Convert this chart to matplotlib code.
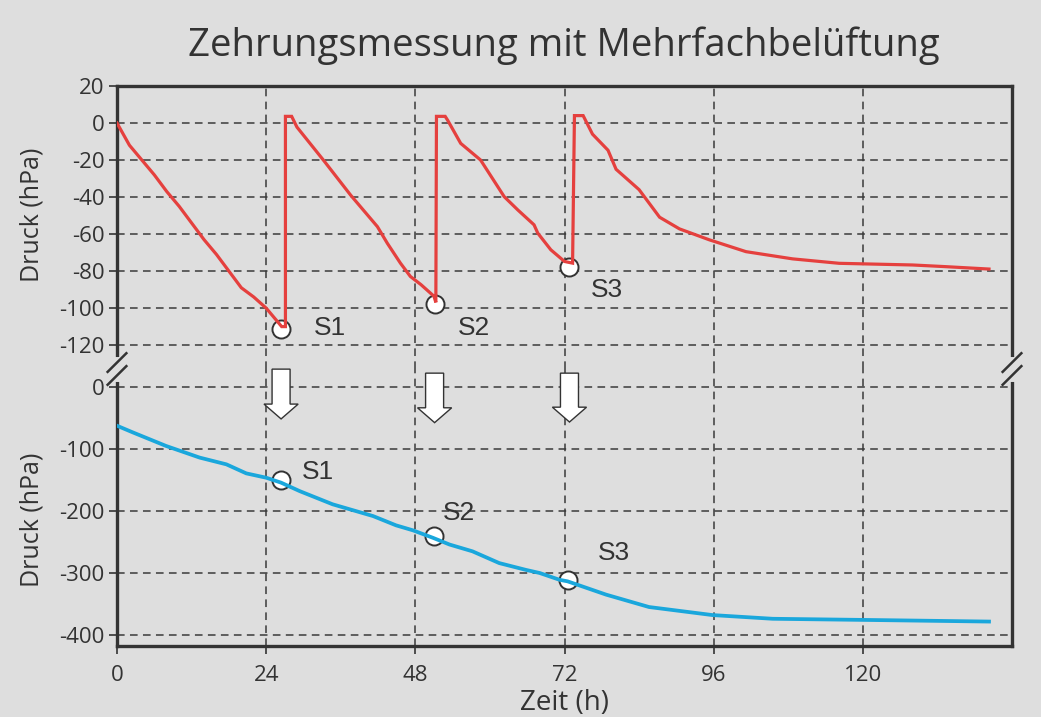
import matplotlib
matplotlib.use("Agg")
import matplotlib.pyplot as plt
from matplotlib.patches import Polygon
from matplotlib.lines import Line2D

# ---------------- data ----------------
title = "Zehrungsmessung mit Mehrfachbelüftung"
xlabel = "Zeit (h)"
ylabel = "Druck (hPa)"
xticks = [0, 24, 48, 72, 96, 120]
yticks_top = [20, 0, -20, -40, -60, -80, -100, -120]
yticks_bot = [0, -100, -200, -300, -400]

red_t = [0, 2, 4, 6, 8, 10, 12, 14, 16, 18, 20, 22, 24, 25.5, 26.5, 27.1,
         27.1, 28.1, 28.95, 33.2, 37.6, 41.9, 43.5, 45.6, 47.2, 48.9, 51.0, 51.3,
         51.4, 52.8, 53.2, 55.3, 58.5, 62.3, 64.5, 67.1, 67.7, 69.8, 72.0, 73.3,
         73.6, 75.0, 76.5, 79.0, 80.3, 84.0, 87.3, 90.5, 95.3, 101.2, 108.7, 116.2, 128.0, 133.3, 140.3]
red_p = [0, -12, -20, -28, -37, -45, -54, -63, -71, -80, -89, -94, -100, -106, -110, -110,
         3.6, 3.6, -2.2, -20, -39, -56, -65, -75.7, -82.9, -87.3, -93.6, -96.9,
         3.6, 3.6, 1.5, -11, -20, -39.8, -47, -55, -59.5, -68.5, -74.8, -75.7,
         4.0, 4.0, -6, -14.7, -25, -36, -50.9, -57.2, -63.1, -69.5, -73.4, -75.8, -76.7, -77.6, -78.9]

blue_t = [0, 2.6, 7.9, 13.3, 17.6, 20.8, 24.0, 26.4, 29.4, 34.7, 41.2, 44.9, 47.6, 50.8, 53.5,
          57.2, 61.5, 65.8, 68.0, 71.2, 72.5, 78.7, 85.6, 95.8, 105.5, 121.5, 140.3]
blue_p = [-62, -73, -94.7, -113.5, -124.4, -139, -146, -154, -167.7, -189, -208, -223, -231, -243, -254,
          -265, -284, -295, -300, -311, -313.5, -335, -355, -368, -374, -376, -378.5]

s_names = ["S1", "S2", "S3"]
s_t_top = [26.4, 51.1, 72.7]
s_p_top = [-111.5, -97.7, -77.8]
s_lab_top_t = [34.3, 57.4, 78.8]
s_lab_top_p = [-110.6, -110.6, -90]

s_t_bot = [26.4, 51.0, 72.5]
s_p_bot = [-150, -241, -311]
s_lab_bot_t = [32.3, 55.0, 80.0]
s_lab_bot_p = [-136.5, -203, -267]

arrow_t = [26.4, 51.1, 72.8]
arrow_top = [29.5, 23, 23]
arrow_tip = [-51, -57, -56]

# ---------------- style ----------------
BG = "#dedede"
DARK = "#333333"
GRID = "#3a3a3a"
RED = "#e5403e"
BLUE = "#1aa7dc"
FONT = ["Open Sans", "DejaVu Sans"]
plt.rcParams["font.family"] = FONT
plt.rcParams["axes.unicode_minus"] = False

fig = plt.figure(figsize=(10.41, 7.17), dpi=100, facecolor=BG)
L, R = 117 / 1041, 1012 / 1041
y_top = 1 - 86 / 717
y_brk = 1 - 369 / 717
y_bot = 1 - 646 / 717
ax1 = fig.add_axes([L, y_brk, R - L, y_top - y_brk])
ax2 = fig.add_axes([L, y_bot, R - L, y_brk - y_bot], sharex=ax1)

for ax in (ax1, ax2):
    ax.set_facecolor(BG)
    ax.set_xlim(0, 144)
    ax.set_xticks(xticks)
    for s in ax.spines.values():
        s.set_color(DARK)
        s.set_linewidth(2.4)
    ax.tick_params(axis="both", colors=DARK, labelcolor=DARK, labelsize=16,
                   length=6, width=1.2, direction="out", pad=3)
    ax.grid(True, color=GRID, linestyle=(0, (5, 3.5)), linewidth=1.1)
    ax.set_axisbelow(True)

ax1.set_ylim(-132.9, 20)
ax1.set_yticks(yticks_top)
ax1.spines["bottom"].set_visible(False)
ax1.tick_params(axis="x", bottom=False, labelbottom=False)

ax2.set_ylim(-418, 29.7)
ax2.set_yticks(yticks_bot)
ax2.spines["top"].set_visible(False)
ax2.set_xticklabels([str(v) for v in xticks])
ax2.tick_params(axis="x", pad=8)

# lines
ax1.plot(red_t, red_p, color=RED, lw=2.3, zorder=4, solid_joinstyle="miter")
ax2.plot(blue_t, blue_p, color=BLUE, lw=2.7, zorder=4)

# circles & labels
ax1.plot(s_t_top, s_p_top, "o", ms=13, mfc="white", mec=DARK, mew=1.4, zorder=3)
ax2.plot(s_t_bot, s_p_bot, "o", ms=13, mfc="white", mec=DARK, mew=1.4, zorder=3)
for n, t, p in zip(s_names, s_lab_top_t, s_lab_top_p):
    ax1.text(t, p, n, ha="center", va="center", fontsize=19, color=DARK,
             family=["Liberation Sans", "DejaVu Sans"], zorder=5)
for n, t, p in zip(s_names, s_lab_bot_t, s_lab_bot_p):
    ax2.text(t, p, n, ha="center", va="center", fontsize=19, color=DARK,
             family=["Liberation Sans", "DejaVu Sans"], zorder=5)

# block arrows
shaft_hw, head_hw, head_len = 1.45, 2.75, 24
for t, top, tip in zip(arrow_t, arrow_top, arrow_tip):
    verts = [(t - shaft_hw, top), (t + shaft_hw, top), (t + shaft_hw, tip + head_len),
             (t + head_hw, tip + head_len), (t, tip), (t - head_hw, tip + head_len),
             (t - shaft_hw, tip + head_len)]
    ax2.add_patch(Polygon(verts, closed=True, facecolor="white", edgecolor=DARK,
                          lw=1.0, zorder=6, clip_on=False))

# labels
ax1.set_ylabel(ylabel, fontsize=18, color=DARK)
ax2.set_ylabel(ylabel, fontsize=18, color=DARK)
ax1.yaxis.set_label_coords(-0.081, 0.544)
ax2.yaxis.set_label_coords(-0.081, 0.455)
ax2.set_xlabel(xlabel, fontsize=20, color=DARK, labelpad=2)
fig.text(0.542, 1 - 46 / 717, title, ha="center", va="center", fontsize=27.5, color=DARK)

# break marks
for xf in (L, R):
    yc = y_brk
    fig.add_artist(Line2D([xf, xf], [yc - 0.012, yc + 0.012], transform=fig.transFigure,
                          color=BG, lw=5, zorder=10))
    for dy in (-0.009, 0.009):
        fig.add_artist(Line2D([xf - 0.009, xf + 0.009], [yc + dy - 0.013, yc + dy + 0.013],
                              transform=fig.transFigure, color=DARK, lw=1.8, zorder=11))

fig.savefig("out.png", dpi=100, facecolor=BG)
